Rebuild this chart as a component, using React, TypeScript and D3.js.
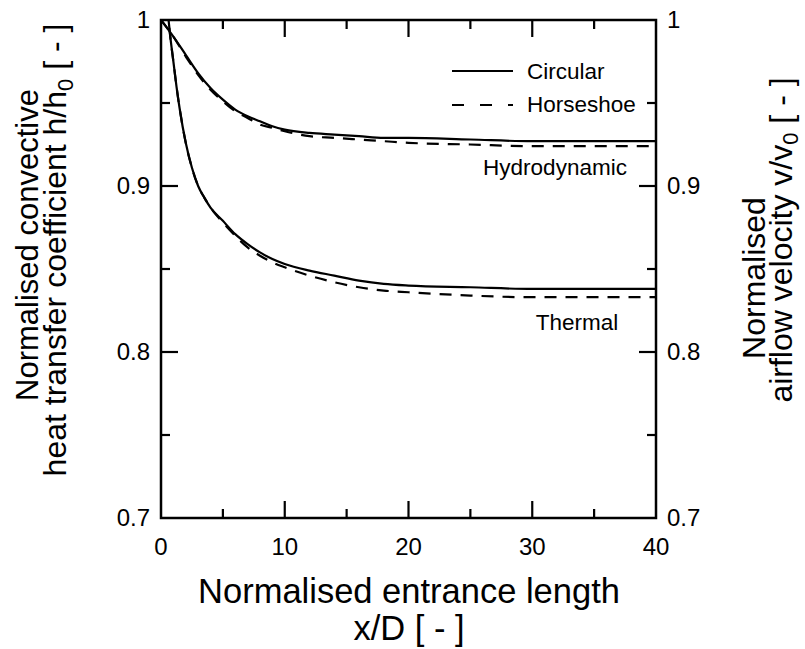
import React from 'react';
import * as d3 from 'd3';

// values
const xHydro = [0, 1, 2, 3, 4, 5, 6, 7, 8, 9, 10, 12, 14, 16, 18, 20, 25, 30, 35, 40];
const hydroCircular = [1.0, 0.99, 0.979, 0.968, 0.959, 0.952, 0.946, 0.942, 0.939, 0.936, 0.934, 0.932, 0.931, 0.93, 0.929, 0.929, 0.928, 0.927, 0.927, 0.927];
const hydroHorseshoe = [1.0, 0.99, 0.978, 0.967, 0.958, 0.951, 0.945, 0.941, 0.937, 0.935, 0.933, 0.93, 0.929, 0.928, 0.927, 0.926, 0.925, 0.924, 0.924, 0.924];

const xThermal = [0.5, 0.75, 1, 1.25, 1.5, 2, 2.5, 3, 3.5, 4, 5, 6, 7, 8, 9, 10, 12, 14, 16, 18, 20, 25, 30, 35, 40];
const thermalCircular = [1.008, 0.99, 0.975, 0.96, 0.947, 0.926, 0.911, 0.9, 0.893, 0.887, 0.879, 0.871, 0.865, 0.86, 0.856, 0.853, 0.849, 0.846, 0.843, 0.841, 0.84, 0.839, 0.838, 0.838, 0.838];
const thermalHorseshoe = [1.008, 0.99, 0.975, 0.96, 0.947, 0.926, 0.911, 0.9, 0.893, 0.887, 0.878, 0.87, 0.863, 0.858, 0.854, 0.851, 0.846, 0.842, 0.839, 0.837, 0.836, 0.834, 0.833, 0.833, 0.833];

const xTicks = [0, 10, 20, 30, 40];
const xMinor = [5, 15, 25, 35];
const yTicks = [0.7, 0.8, 0.9, 1];
const yMinor = [0.75, 0.85, 0.95];

const legendItems = ['Circular', 'Horseshoe'];

const FONT = "Arial, 'Liberation Sans', sans-serif";
const W = 805;
const H = 649;
const left = 161;
const right = 656;
const top = 20;
const bottom = 518;

export default function App() {
  const x = d3.scaleLinear().domain([0, 40]).range([left, right]);
  const y = d3.scaleLinear().domain([0.7, 1]).range([bottom, top]);

  const line = (xs: number[], ys: number[]) =>
    d3
      .line<number>()
      .x((_, i) => x(xs[i]))
      .y((d) => y(d))
      .curve(d3.curveMonotoneX)(ys) || '';

  const series = [
    { d: line(xHydro, hydroCircular), dash: null },
    { d: line(xHydro, hydroHorseshoe), dash: '12 9' },
    { d: line(xThermal, thermalCircular), dash: null },
    { d: line(xThermal, thermalHorseshoe), dash: '12 9' },
  ];

  const major = 17;
  const minor = 9;

  return (
    <svg width={W} height={H} style={{ position: 'absolute', left: 0, top: 0, background: '#fff' }} fontFamily={FONT}>
      <defs>
        <clipPath id="plot">
          <rect x={left} y={top} width={right - left} height={bottom - top} />
        </clipPath>
      </defs>

      <g clipPath="url(#plot)" fill="none" stroke="#000" strokeWidth={2.2}>
        {series.map((s, i) => (
          <path key={i} d={s.d} strokeDasharray={s.dash || undefined} />
        ))}
      </g>

      {/* ticks, all pointing inward */}
      <g stroke="#000" strokeWidth={2.2}>
        {xTicks.slice(1, -1).map((t) => (
          <g key={'xt' + t}>
            <line x1={x(t)} x2={x(t)} y1={bottom} y2={bottom - major} />
            <line x1={x(t)} x2={x(t)} y1={top} y2={top + major} />
          </g>
        ))}
        {xMinor.map((t) => (
          <g key={'xm' + t}>
            <line x1={x(t)} x2={x(t)} y1={bottom} y2={bottom - minor} />
            <line x1={x(t)} x2={x(t)} y1={top} y2={top + minor} />
          </g>
        ))}
        {yTicks.slice(1, -1).map((t) => (
          <g key={'yt' + t}>
            <line x1={left} x2={left + major} y1={y(t)} y2={y(t)} />
            <line x1={right} x2={right - major} y1={y(t)} y2={y(t)} />
          </g>
        ))}
        {yMinor.map((t) => (
          <g key={'ym' + t}>
            <line x1={left} x2={left + minor} y1={y(t)} y2={y(t)} />
            <line x1={right} x2={right - minor} y1={y(t)} y2={y(t)} />
          </g>
        ))}
      </g>

      <rect x={left} y={top} width={right - left} height={bottom - top} fill="none" stroke="#000" strokeWidth={2.5} />

      {/* tick labels */}
      <g fontSize={24} fill="#000">
        {xTicks.map((t) => (
          <text key={'xl' + t} x={x(t)} y={555} textAnchor="middle">
            {t}
          </text>
        ))}
        {yTicks.map((t) => (
          <g key={'yl' + t}>
            <text x={left - 11} y={y(t) + 8} textAnchor="end">
              {d3.format('~g')(t)}
            </text>
            <text x={right + 11} y={y(t) + 8} textAnchor="start">
              {d3.format('~g')(t)}
            </text>
          </g>
        ))}
      </g>

      {/* legend */}
      <g>
        {legendItems.map((name, i) => (
          <g key={name}>
            <line x1={452} x2={513} y1={71 + i * 34} y2={71 + i * 34} stroke="#000" strokeWidth={2.2} strokeDasharray={i === 1 ? '12 16' : undefined} />
            <text x={527} y={79 + i * 33} fontSize={22.5}>
              {name}
            </text>
          </g>
        ))}
      </g>

      <text x={555} y={175} fontSize={22.5} textAnchor="middle">Hydrodynamic</text>
      <text x={577} y={330} fontSize={22.5} textAnchor="middle">Thermal</text>

      {/* axis titles */}
      <g fill="#000" textAnchor="middle" style={{ whiteSpace: 'pre' }}>
        <text x={409} y={603} fontSize={34.5}>Normalised entrance length</text>
        <text x={409} y={640} fontSize={34.5}>x/D [ - ]</text>

        <text fontSize={31} transform="translate(38,245) rotate(-90)">Normalised convective</text>
        <text fontSize={32} transform="translate(66,250) rotate(-90)">
          {'heat transfer coefficient  h/h'}
          <tspan fontSize={22} dy={7}>0</tspan>
          <tspan dy={-7}>{' [ - ]'}</tspan>
        </text>

        <text fontSize={32} transform="translate(765,278) rotate(-90)">Normalised</text>
        <text fontSize={32} transform="translate(792,240) rotate(-90)">
          {'airflow velocity v/v'}
          <tspan fontSize={22} dy={6}>0</tspan>
          <tspan dy={-6}>{'  [ - ]'}</tspan>
        </text>
      </g>
    </svg>
  );
}
